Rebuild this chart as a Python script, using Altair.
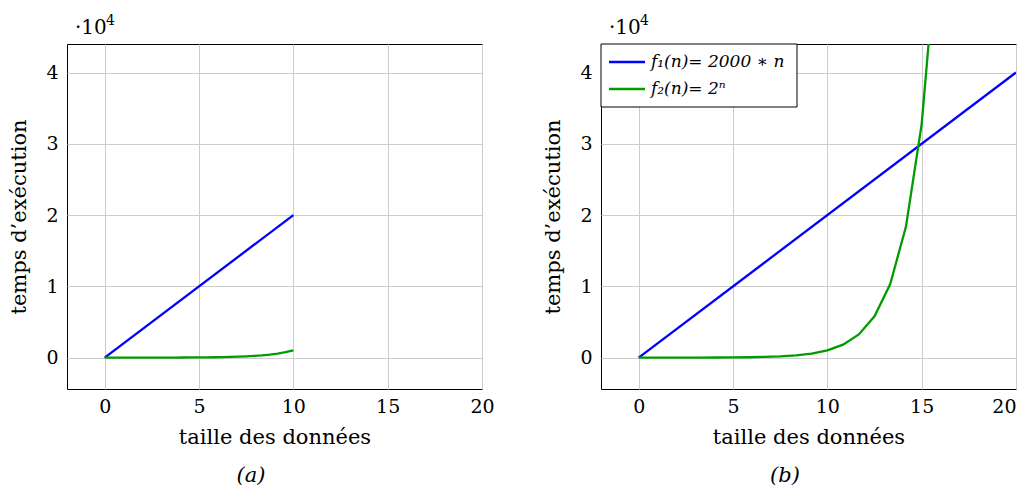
import altair as alt
import pandas as pd

FONT = "DejaVu Serif"
FS = 19

SERIES = ["f₁(n)= 2000 ∗ n", "f₂(n)= 2ⁿ"]
COLORS = ["#0000ff", "#009c00"]

X_TICKS = [0, 5, 10, 15, 20]
Y_TICKS = [0, 10000, 20000, 30000, 40000]

# panel (a)
a_lin_n = [0, 10]
a_lin_t = [0, 20000]
a_exp_n = [0, 0.417, 0.833, 1.25, 1.667, 2.083, 2.5, 2.917, 3.333, 3.75, 4.167, 4.583,
           5, 5.417, 5.833, 6.25, 6.667, 7.083, 7.5, 7.917, 8.333, 8.75, 9.167, 9.583, 10]
a_exp_t = [1, 1.3, 1.8, 2.4, 3.2, 4.2, 5.7, 7.6, 10, 13, 18, 24,
           32, 43, 57, 76, 102, 136, 181, 242, 323, 431, 575, 767, 1024]

# panel (b)
b_lin_n = [0, 20]
b_lin_t = [0, 40000]
b_exp_n = [0, 0.833, 1.667, 2.5, 3.333, 4.167, 5, 5.833, 6.667, 7.5, 8.333, 9.167,
           10, 10.833, 11.667, 12.5, 13.333, 14.167, 15, 15.833]
b_exp_t = [1, 1.8, 3.2, 5.7, 10, 18, 32, 57, 102, 181, 323, 575,
           1024, 1825, 3251, 5793, 10321, 18390, 32768, 58386]


def frame(lin_n, lin_t, exp_n, exp_t):
    rows = [{"n": n, "t": t, "serie": SERIES[0]} for n, t in zip(lin_n, lin_t)]
    rows += [{"n": n, "t": t, "serie": SERIES[1]} for n, t in zip(exp_n, exp_t)]
    return pd.DataFrame(rows)


def one(text):
    return alt.Data(values=[{"s": text}])


def legend_layers():
    box = alt.Chart(one("")).mark_rect(fill="white", stroke="black", strokeWidth=1).encode(
        x=alt.value(0), x2=alt.value(196), y=alt.value(0), y2=alt.value(63))
    layers = [box]
    for i, (name, col) in enumerate(zip(SERIES, COLORS)):
        yy = 18 + 27 * i
        layers.append(alt.Chart(one(name)).mark_rule(color=col, strokeWidth=2.3).encode(
            x=alt.value(8), x2=alt.value(44), y=alt.value(yy)))
        layers.append(alt.Chart(one(name)).mark_text(
            font=FONT, fontSize=17, fontStyle="italic", align="left",
            baseline="middle").encode(x=alt.value(50), y=alt.value(yy), text="s:N"))
    return layers


def panel(df, tag, with_legend):
    x_axis = dict(values=X_TICKS, title="taille des données", grid=True,
                  ticks=False, domain=False, labelPadding=8, titlePadding=10)
    if with_legend:
        x_axis["labelFlush"] = 2
    else:
        x_axis["labelFlush"] = False
    x = alt.X("n:Q",
              scale=alt.Scale(domain=[-2, 20], nice=False, zero=False),
              axis=alt.Axis(**x_axis))
    y = alt.Y("t:Q",
              scale=alt.Scale(domain=[-4400, 44000], nice=False, zero=False),
              axis=alt.Axis(values=Y_TICKS, labelExpr="datum.value / 10000",
                            title="temps d’exécution", grid=True, ticks=False,
                            domain=False, labelPadding=9, titlePadding=16))
    color = alt.Color("serie:N", scale=alt.Scale(domain=SERIES, range=COLORS),
                      legend=None)
    lines = alt.Chart(df).mark_line(strokeWidth=2.3, clip=True).encode(
        x=x, y=y, color=color)
    mult = alt.Chart(one("·10")).mark_text(
        font=FONT, fontSize=20, align="left", baseline="middle").encode(
        x=alt.value(8), y=alt.value(-16), text="s:N")
    expo = alt.Chart(one("4")).mark_text(
        font=FONT, fontSize=14, align="left", baseline="middle").encode(
        x=alt.value(39), y=alt.value(-23), text="s:N")
    lab = alt.Chart(one(tag)).mark_text(
        font=FONT, fontSize=21, fontStyle="italic", align="center",
        baseline="middle").encode(
        x=alt.value(184), y=alt.value(432), text="s:N")
    layers = [lines, mult, expo, lab]
    if with_legend:
        layers += legend_layers()
    return alt.layer(*layers).properties(width=415, height=345)


pa = panel(frame(a_lin_n, a_lin_t, a_exp_n, a_exp_t), "(a)", False)
pb = panel(frame(b_lin_n, b_lin_t, b_exp_n, b_exp_t), "(b)", True)

chart = alt.hconcat(pa, pb, spacing=47).configure_view(
    stroke="black", strokeWidth=1).configure_axis(
    gridColor="#cccccc", gridWidth=1, labelFont=FONT, labelFontSize=FS,
    labelColor="black", titleFont=FONT, titleFontSize=21, titleFontWeight="normal",
    titleColor="black").properties(padding={"left": 0, "top": 5, "right": 0, "bottom": 0})

chart.save("out.html", embed_options={"renderer": "svg", "actions": False})
